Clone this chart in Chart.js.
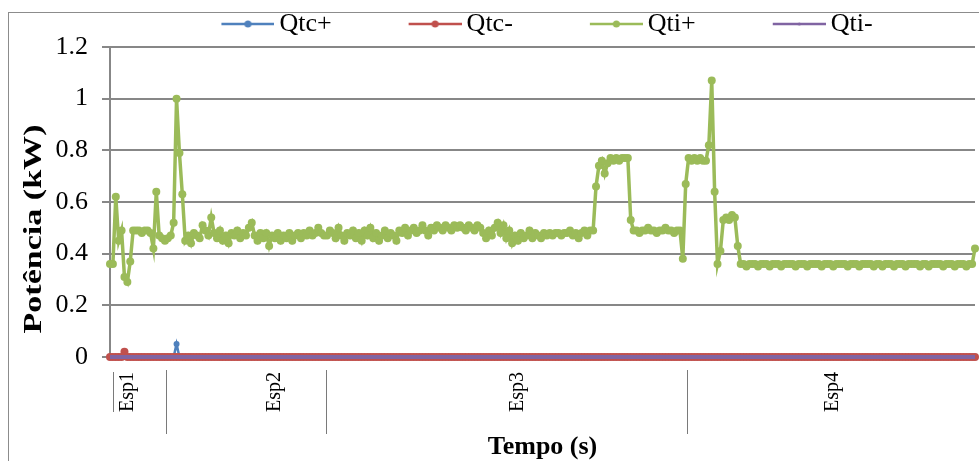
<!DOCTYPE html>
<html>
<head>
<meta charset="utf-8">
<script src="https://cdn.jsdelivr.net/npm/chart.js@4.4.1/dist/chart.umd.min.js"></script>
<style>
  html, body { margin: 0; padding: 0; background: #fff; }
  #wrap { width: 979px; height: 461px; }
</style>
</head>
<body>
<div id="wrap"><canvas id="myChart"></canvas></div>
<script>
// outer category level under the x axis and how many samples each one holds
var groups = ['Esp1', 'Esp2', 'Esp3', 'Esp4'];
var groupSizes = [20, 55, 125, 100];
// where the group name sits inside its span (fraction of the group)
var labelPos = [0.28, 0.68, 0.53, 0.5];

// power readings (kW), one value per sample
var qtcPlus = [
  0,0,0,0,0,0,0,0,0,0,0,0,0,0,0,0,0,0,0,0,0,0,0,0.05,0,
  0,0,0,0,0,0,0,0,0,0,0,0,0,0,0,0,0,0,0,0,0,0,0,0,0,
  0,0,0,0,0,0,0,0,0,0,0,0,0,0,0,0,0,0,0,0,0,0,0,0,0,
  0,0,0,0,0,0,0,0,0,0,0,0,0,0,0,0,0,0,0,0,0,0,0,0,0,
  0,0,0,0,0,0,0,0,0,0,0,0,0,0,0,0,0,0,0,0,0,0,0,0,0,
  0,0,0,0,0,0,0,0,0,0,0,0,0,0,0,0,0,0,0,0,0,0,0,0,0,
  0,0,0,0,0,0,0,0,0,0,0,0,0,0,0,0,0,0,0,0,0,0,0,0,0,
  0,0,0,0,0,0,0,0,0,0,0,0,0,0,0,0,0,0,0,0,0,0,0,0,0,
  0,0,0,0,0,0,0,0,0,0,0,0,0,0,0,0,0,0,0,0,0,0,0,0,0,
  0,0,0,0,0,0,0,0,0,0,0,0,0,0,0,0,0,0,0,0,0,0,0,0,0,
  0,0,0,0,0,0,0,0,0,0,0,0,0,0,0,0,0,0,0,0,0,0,0,0,0,
  0,0,0,0,0,0,0,0,0,0,0,0,0,0,0,0,0,0,0,0,0,0,0,0,0
];
var qtcMinus = [
  0,0,0,0,0,0.02,0,0,0,0,0,0,0,0,0,0,0,0,0,0,0,0,0,0,0,
  0,0,0,0,0,0,0,0,0,0,0,0,0,0,0,0,0,0,0,0,0,0,0,0,0,
  0,0,0,0,0,0,0,0,0,0,0,0,0,0,0,0,0,0,0,0,0,0,0,0,0,
  0,0,0,0,0,0,0,0,0,0,0,0,0,0,0,0,0,0,0,0,0,0,0,0,0,
  0,0,0,0,0,0,0,0,0,0,0,0,0,0,0,0,0,0,0,0,0,0,0,0,0,
  0,0,0,0,0,0,0,0,0,0,0,0,0,0,0,0,0,0,0,0,0,0,0,0,0,
  0,0,0,0,0,0,0,0,0,0,0,0,0,0,0,0,0,0,0,0,0,0,0,0,0,
  0,0,0,0,0,0,0,0,0,0,0,0,0,0,0,0,0,0,0,0,0,0,0,0,0,
  0,0,0,0,0,0,0,0,0,0,0,0,0,0,0,0,0,0,0,0,0,0,0,0,0,
  0,0,0,0,0,0,0,0,0,0,0,0,0,0,0,0,0,0,0,0,0,0,0,0,0,
  0,0,0,0,0,0,0,0,0,0,0,0,0,0,0,0,0,0,0,0,0,0,0,0,0,
  0,0,0,0,0,0,0,0,0,0,0,0,0,0,0,0,0,0,0,0,0,0,0,0,0
];
var qtiPlus = [
  // Esp1
  0.36,0.36,0.62,0.45,0.49,0.31,0.29,0.37,0.49,0.49,0.49,0.48,0.49,0.49,0.48,0.42,0.64,0.47,0.46,0.45,
  // Esp2
  0.46,0.47,0.52,1.0,0.79,0.63,0.45,
  0.47,0.44,0.48,0.47,0.46,0.51,0.49,0.47,0.54,0.48,
  0.46,0.49,0.45,0.47,0.44,0.48,0.47,0.49,0.46,0.48,
  0.47,0.50,0.52,0.47,0.45,0.48,0.46,0.48,0.43,0.47,
  0.46,0.48,0.45,0.47,0.46,0.48,0.45,0.47,0.48,0.46,
  0.48,0.47,0.49,0.47,0.48,0.50,0.48,0.47,
  // Esp3
  0.47,0.49,0.48,0.46,0.50,0.47,0.45,0.48,0.47,0.49,
  0.46,0.48,0.45,0.49,0.47,0.50,0.46,0.48,0.45,0.47,
  0.49,0.46,0.48,0.47,0.45,0.49,0.48,0.50,0.47,0.49,
  0.50,0.48,0.49,0.51,0.49,0.47,0.50,0.49,0.51,0.50,
  0.49,0.51,0.50,0.49,0.51,0.50,0.51,0.50,0.49,0.51,
  0.50,0.49,0.51,0.50,0.48,0.46,0.49,0.47,0.50,0.52,
  0.48,0.51,0.46,0.49,0.44,0.47,0.45,0.48,0.46,0.47,
  0.49,0.46,0.48,0.47,0.46,0.48,0.47,0.48,0.47,0.48,
  0.48,0.47,0.48,0.48,0.49,0.47,0.48,0.46,0.48,0.49,0.47,0.49,
  0.49,0.66,0.74,0.76,0.71,0.75,0.77,0.76,0.77,0.76,0.77,0.77,0.77,
  0.53,0.49,0.49,0.48,0.49,0.49,0.50,0.49,0.49,0.48,0.49,0.49,0.50,0.49,0.49,0.48,0.49,0.49,0.38,0.67,
  // Esp4
  0.77,0.76,0.77,0.76,0.77,0.76,0.76,
  0.82,1.07,0.64,0.36,0.41,0.53,0.54,0.53,0.55,0.54,0.43,
  0.36,0.36,0.35,0.36,0.36,0.36,0.35,0.36,0.36,0.36,
  0.35,0.36,0.36,0.36,0.35,0.36,0.36,0.36,0.36,0.35,
  0.36,0.36,0.36,0.35,0.36,0.36,0.36,0.36,0.35,0.36,
  0.36,0.36,0.35,0.36,0.36,0.36,0.36,0.35,0.36,0.36,
  0.36,0.35,0.36,0.36,0.36,0.36,0.35,0.36,0.36,0.35,
  0.36,0.36,0.36,0.35,0.36,0.36,0.36,0.35,0.36,0.36,
  0.36,0.36,0.35,0.36,0.36,0.35,0.36,0.36,0.36,0.36,
  0.35,0.36,0.36,0.36,0.35,0.36,0.36,0.36,0.35,0.36,
  0.36,
  0.42
];
var qtiMinus = [
  0,0,0,0,0,0,0,0,0,0,0,0,0,0,0,0,0,0,0,0,0,0,0,0,0,
  0,0,0,0,0,0,0,0,0,0,0,0,0,0,0,0,0,0,0,0,0,0,0,0,0,
  0,0,0,0,0,0,0,0,0,0,0,0,0,0,0,0,0,0,0,0,0,0,0,0,0,
  0,0,0,0,0,0,0,0,0,0,0,0,0,0,0,0,0,0,0,0,0,0,0,0,0,
  0,0,0,0,0,0,0,0,0,0,0,0,0,0,0,0,0,0,0,0,0,0,0,0,0,
  0,0,0,0,0,0,0,0,0,0,0,0,0,0,0,0,0,0,0,0,0,0,0,0,0,
  0,0,0,0,0,0,0,0,0,0,0,0,0,0,0,0,0,0,0,0,0,0,0,0,0,
  0,0,0,0,0,0,0,0,0,0,0,0,0,0,0,0,0,0,0,0,0,0,0,0,0,
  0,0,0,0,0,0,0,0,0,0,0,0,0,0,0,0,0,0,0,0,0,0,0,0,0,
  0,0,0,0,0,0,0,0,0,0,0,0,0,0,0,0,0,0,0,0,0,0,0,0,0,
  0,0,0,0,0,0,0,0,0,0,0,0,0,0,0,0,0,0,0,0,0,0,0,0,0,
  0,0,0,0,0,0,0,0,0,0,0,0,0,0,0,0,0,0,0,0,0,0,0,0,0
];

// one label per sample, the group name only once inside its span
var labels = [];
groups.forEach(function (g, k) {
  var at = Math.round(groupSizes[k] * labelPos[k]);
  for (var j = 0; j < groupSizes[k]; j++) labels.push(j === at ? g : '');
});

var serif = '"Liberation Serif", "Times New Roman", serif';

// excel style legend key: a short line with a dot in the middle
function legendIcon(color, dot) {
  var c = document.createElement('canvas');
  c.width = 138; c.height = 14;
  var g = c.getContext('2d');
  g.strokeStyle = color; g.lineWidth = 2.5;
  g.beginPath(); g.moveTo(85, 7); g.lineTo(138, 7); g.stroke();
  g.fillStyle = color;
  g.beginPath(); g.arc(111.5, 7, dot, 0, Math.PI * 2); g.fill();
  return c;
}

function series(label, data, color, width, radius, order) {
  return {
    label: label, data: data, order: order,
    borderColor: color, backgroundColor: color,
    pointBackgroundColor: color, pointBorderColor: color,
    borderWidth: width, pointRadius: radius, pointBorderWidth: 0,
    pointHoverRadius: radius, tension: 0, clip: 8
  };
}

var decor = {
  id: 'decor',
  beforeDraw: function (chart) {
    var ctx = chart.ctx;
    ctx.save();
    ctx.strokeStyle = '#8c8c8c';
    ctx.lineWidth = 1;
    ctx.strokeRect(8.5, 12.5, chart.width, chart.height);
    ctx.restore();
  },
  afterDraw: function (chart) {
    var ctx = chart.ctx, xs = chart.scales.x, area = chart.chartArea, b = area.bottom;
    ctx.save();
    ctx.strokeStyle = '#7a7a7a';
    ctx.lineWidth = 1;
    ctx.beginPath();
    var px = Math.round(xs.getPixelForValue(1)) + 0.5;
    ctx.moveTo(px, b + 15); ctx.lineTo(px, b + 55);
    var start = 0;
    for (var k = 1; k < groups.length; k++) {
      start += groupSizes[k - 1];
      px = Math.round((xs.getPixelForValue(start - 1) + xs.getPixelForValue(start)) / 2) + 0.5;
      ctx.moveTo(px, b + 13); ctx.lineTo(px, b + 77);
    }
    ctx.stroke();
    // vertical axis title, stretched along its length like the original
    ctx.fillStyle = '#000';
    ctx.font = 'bold 26px ' + serif;
    ctx.textAlign = 'center';
    ctx.textBaseline = 'middle';
    ctx.translate(34, (area.top + b) / 2 + 27);
    ctx.rotate(-Math.PI / 2);
    ctx.scale(1.31, 1);
    ctx.fillText('Potência (kW)', 0, 0);
    ctx.restore();
  }
};

var ctx = document.getElementById('myChart');
var myChart = new Chart(ctx, {
  type: 'line',
  data: {
    labels: labels,
    datasets: [
      series('Qtc+', qtcPlus, '#4F81BD', 2.5, 3, 3),
      series('Qtc-', qtcMinus, '#C0504D', 2.5, 4, 2),
      series('Qti+', qtiPlus, '#9BBB59', 3.5, 4, 1),
      series('Qti-', qtiMinus, '#8064A2', 4, 0, 0)
    ]
  },
  options: {
    responsive: true,
    maintainAspectRatio: false,
    animation: false,
    layout: { padding: { left: 39, top: 11, right: 1, bottom: 0 } },
    plugins: {
      tooltip: { enabled: false },
      legend: {
        position: 'top',
        labels: {
          usePointStyle: true,
          pointStyleWidth: 122,
          padding: 0,
          color: '#000',
          font: { family: serif, size: 26 },
          generateLabels: function (chart) {
            return chart.data.datasets.map(function (ds, i) {
              return {
                text: ds.label,
                pointStyle: legendIcon(ds.borderColor, ds.pointRadius > 0 ? 3.5 : 1.5),
                fillStyle: ds.borderColor,
                strokeStyle: ds.borderColor,
                lineWidth: 0,
                hidden: false,
                datasetIndex: i
              };
            });
          }
        }
      }
    },
    scales: {
      x: {
        grid: { display: false, drawTicks: false },
        border: { display: true, color: '#878787', width: 2 },
        ticks: {
          autoSkip: false, minRotation: 90, maxRotation: 90, padding: 15,
          color: '#000', font: { family: serif, size: 20 }
        },
        title: {
          display: true, text: 'Tempo (s)', color: '#000',
          font: { family: serif, size: 26, weight: 'bold' },
          padding: { top: 0, bottom: -2 }
        },
        afterFit: function (s) {
          s.height = 104;
          s.paddingLeft = 0;
          s.paddingRight = 0;
        }
      },
      y: {
        min: 0,
        max: 1.2,
        ticks: {
          stepSize: 0.2, padding: 14, color: '#000', font: { family: serif, size: 26 },
          callback: function (v) { return String(Math.round(v * 10) / 10); }
        },
        grid: { color: '#878787', lineWidth: 2, tickLength: 8 },
        border: { display: true, color: '#878787', width: 2 },
        afterFit: function (s) { s.width = 71; }
      }
    }
  },
  plugins: [decor]
});
</script>
</body>
</html>
